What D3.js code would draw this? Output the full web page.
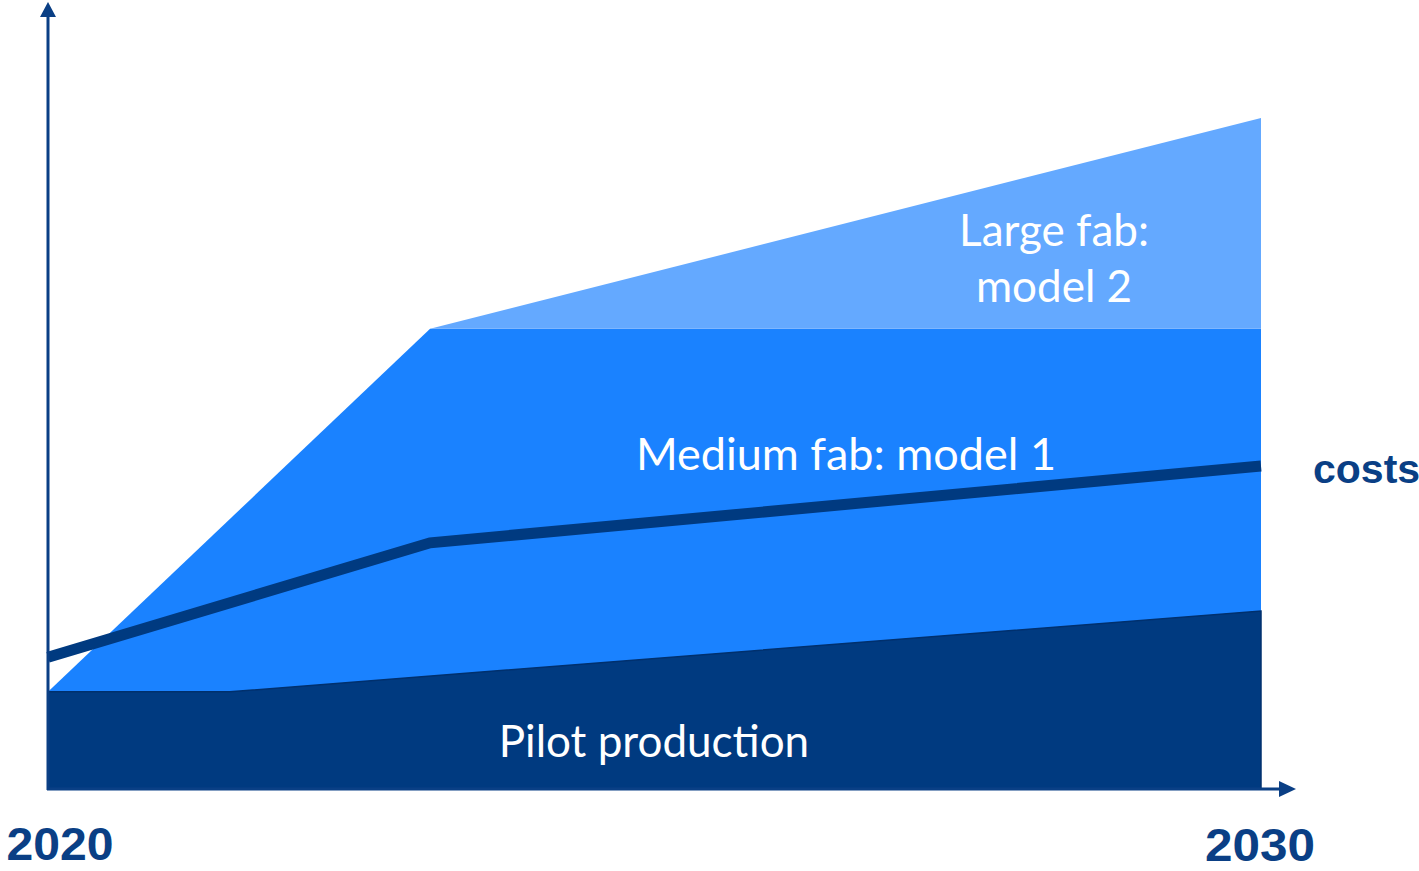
<!DOCTYPE html>
<html>
<head>
<meta charset="utf-8">
<script src="https://cdn.jsdelivr.net/npm/d3@7"></script>
<style>
  body { margin: 0; background: #fff; }
  svg { display: block; }
</style>
</head>
<body>
<div id="chart"></div>
<script>
// values, y in arbitrary units (0..100)
const pilotYears = [2020, 2021.5, 2030];
const pilotTop = [12.4, 12.4, 22.7];

const mediumYears = [2020, 2023.15, 2030];
const mediumTop = [12.4, 58.7, 58.7];

const largeYears = [2023.15, 2030];
const largeBase = [58.7, 58.7];
const largeTop = [58.7, 85.6];

const costYears = [2020, 2023.15, 2030];
const costValues = [16.8, 31.4, 41.2];

const yearLabels = [2020, 2030];

const W = 1419, H = 871;
const navy = "#003a80";

const svg = d3.select("#chart").append("svg")
    .attr("width", W)
    .attr("height", H);

const x = d3.scaleLinear().domain([2020, 2030]).range([48, 1261]);
const y = d3.scaleLinear().domain([0, 100]).range([789, 5]);

const zip = (xs, ys) => xs.map((d, i) => ({ year: d, v: ys[i] }));

// medium fab (drawn down to the axis, pilot goes on top)
svg.append("path")
    .datum(zip(mediumYears, mediumTop))
    .attr("fill", "#1a82ff")
    .attr("d", d3.area().x(d => x(d.year)).y0(y(0)).y1(d => y(d.v)));

// large fab
svg.append("path")
    .datum(largeYears.map((d, i) => ({ year: d, lo: largeBase[i], hi: largeTop[i] })))
    .attr("fill", "#64a9ff")
    .attr("d", d3.area().x(d => x(d.year)).y0(d => y(d.lo)).y1(d => y(d.hi)));

// pilot production
svg.append("path")
    .datum(zip(pilotYears, pilotTop))
    .attr("fill", navy)
    .attr("stroke", "#00306d")
    .attr("stroke-width", 1.5)
    .attr("d", d3.area().x(d => x(d.year)).y0(y(0)).y1(d => y(d.v)));

// costs line
svg.append("path")
    .datum(zip(costYears, costValues))
    .attr("fill", "none")
    .attr("stroke", navy)
    .attr("stroke-width", 11)
    .attr("d", d3.line().x(d => x(d.year)).y(d => y(d.v)));

// axes with arrows
const axisColor = "#0a3f85";
svg.append("line")
    .attr("x1", x(2020)).attr("y1", y(0) + 1)
    .attr("x2", x(2020)).attr("y2", 16)
    .attr("stroke", axisColor).attr("stroke-width", 3);
svg.append("path")
    .attr("d", `M${x(2020)},2 L${x(2020) - 8},17 L${x(2020) + 8},17 Z`)
    .attr("fill", axisColor);
svg.append("line")
    .attr("x1", x(2020) - 1).attr("y1", y(0))
    .attr("x2", 1281).attr("y2", y(0))
    .attr("stroke", axisColor).attr("stroke-width", 3);
svg.append("path")
    .attr("d", `M1296,${y(0)} L1279,${y(0) - 8} L1279,${y(0) + 8} Z`)
    .attr("fill", axisColor);

// year labels
svg.selectAll("text.year")
    .data(yearLabels)
    .enter()
    .append("text")
    .attr("class", "year")
    .attr("x", d => d === 2020 ? x(d) + 12 : x(d) - 1)
    .attr("y", d => d === 2020 ? 860 : 861)
    .attr("text-anchor", "middle")
    .attr("font-family", "Liberation Sans, Arial, sans-serif")
    .attr("font-weight", "bold")
    .attr("font-size", 46)
    .attr("textLength", d => d === 2020 ? 107 : 110)
    .attr("lengthAdjust", "spacingAndGlyphs")
    .attr("fill", axisColor)
    .text(d => d);

svg.append("text")
    .attr("x", 1313).attr("y", 483)
    .attr("font-family", "Liberation Sans, Arial, sans-serif")
    .attr("font-weight", "bold")
    .attr("font-size", 41)
    .attr("fill", axisColor)
    .text("costs");

// area labels
const labelFont = "Lato, 'Open Sans', sans-serif";
const labels = [
    { t: "Large fab:", cx: 1054, by: 246, fs: 44 },
    { t: "model 2", cx: 1054, by: 302, fs: 44 },
    { t: "Medium fab: model 1", cx: 846, by: 470, fs: 45 },
    { t: "Pilot production", cx: 654, by: 757, fs: 44 }
];
svg.selectAll("text.lbl")
    .data(labels)
    .enter()
    .append("text")
    .attr("class", "lbl")
    .attr("x", d => d.cx)
    .attr("y", d => d.by)
    .attr("text-anchor", "middle")
    .attr("font-family", labelFont)
    .attr("font-size", d => d.fs)
    .attr("fill", "#fff")
    .text(d => d.t);
</script>
</body>
</html>
